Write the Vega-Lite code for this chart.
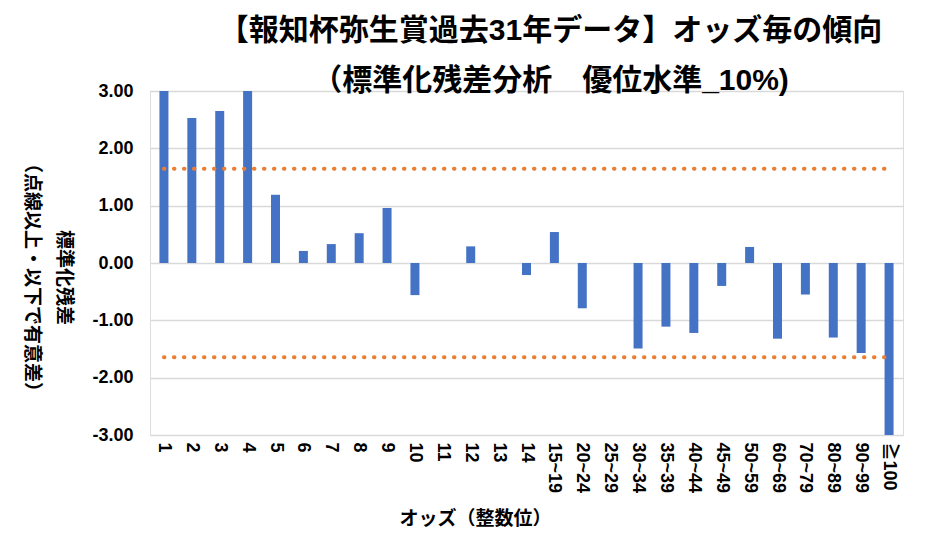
{
  "$schema": "https://vega.github.io/schema/vega-lite/v6.json",
  "autosize": {"type": "none"},
  "padding": {"left": 150, "top": 91, "right": 46, "bottom": 106},
  "width": 753,
  "height": 344,
  "background": "white",
  "title": {
    "text": ["【報知杯弥生賞過去31年データ】オッズ毎の傾向", "（標準化残差分析　優位水準_10%)"],
    "font": "Liberation Sans, Noto Sans CJK JP",
    "fontSize": 30,
    "fontWeight": "bold",
    "color": "#000000",
    "lineHeight": 50,
    "anchor": "middle",
    "dx": 24,
    "offset": -14
  },
  "data": {
    "values": [
      {"odds": "1", "z": 3.0},
      {"odds": "2", "z": 2.53},
      {"odds": "3", "z": 2.65},
      {"odds": "4", "z": 3.0},
      {"odds": "5", "z": 1.19},
      {"odds": "6", "z": 0.21},
      {"odds": "7", "z": 0.33},
      {"odds": "8", "z": 0.52},
      {"odds": "9", "z": 0.96},
      {"odds": "10", "z": -0.56},
      {"odds": "11", "z": 0},
      {"odds": "12", "z": 0.29},
      {"odds": "13", "z": 0},
      {"odds": "14", "z": -0.21},
      {"odds": "15~19", "z": 0.54},
      {"odds": "20~24", "z": -0.79},
      {"odds": "25~29", "z": 0},
      {"odds": "30~34", "z": -1.49},
      {"odds": "35~39", "z": -1.11},
      {"odds": "40~44", "z": -1.22},
      {"odds": "45~49", "z": -0.40},
      {"odds": "50~59", "z": 0.28},
      {"odds": "60~69", "z": -1.32},
      {"odds": "70~79", "z": -0.55},
      {"odds": "80~89", "z": -1.30},
      {"odds": "90~99", "z": -1.57},
      {"odds": "≧100", "z": -3.0}
    ]
  },
  "encoding": {
    "x": {
      "field": "odds",
      "type": "nominal",
      "sort": null,
      "scale": {"paddingInner": 0, "paddingOuter": 0},
      "axis": {
        "title": "オッズ（整数位）",
        "titleFont": "Noto Sans CJK JP",
        "titleFontSize": 19,
        "titleFontWeight": "bold",
        "titleColor": "#000000",
        "titlePadding": 17,
        "titleX": 325,
        "labelAngle": 90,
        "labelFont": "Liberation Sans, Noto Sans CJK JP",
        "labelFontSize": 18,
        "labelFontWeight": "bold",
        "labelColor": "#000000",
        "labelPadding": 7,
        "ticks": false,
        "domain": false,
        "grid": false
      }
    }
  },
  "layer": [
    {
      "mark": {"type": "bar", "color": "#4472C4", "size": 9, "clip": true},
      "encoding": {
        "y": {
          "field": "z",
          "type": "quantitative",
          "scale": {"domain": [-3, 3], "nice": false},
          "axis": {
            "values": [-3, -2, -1, 0, 1, 2, 3],
            "labelExpr": "replace(format(datum.value, '.2f'), '−', '-')",
            "title": ["標準化残差", "（点線以上・以下で有意差）"],
            "titleAngle": 90,
            "titleBaseline": "top",
            "titleAlign": "center",
            "titleFont": "Noto Sans CJK JP",
            "titleFontSize": 19,
            "titleFontWeight": "bold",
            "titleColor": "#000000",
            "titleLineHeight": 32,
            "titleX": -78,
            "titleY": 186,
            "labelFont": "Liberation Sans",
            "labelFontSize": 18,
            "labelFontWeight": "bold",
            "labelColor": "#000000",
            "labelPadding": 17,
            "ticks": false,
            "domain": false,
            "grid": true,
            "gridColor": "#d9d9d9",
            "gridWidth": 1.5
          }
        }
      }
    },
    {
      "mark": {"type": "line", "color": "#ED7D31", "strokeWidth": 4, "strokeCap": "round", "strokeDash": [0.5, 9.5]},
      "encoding": {"y": {"datum": 1.645}}
    },
    {
      "mark": {"type": "line", "color": "#ED7D31", "strokeWidth": 4, "strokeCap": "round", "strokeDash": [0.5, 9.5]},
      "encoding": {"y": {"datum": -1.645}}
    }
  ]
}
